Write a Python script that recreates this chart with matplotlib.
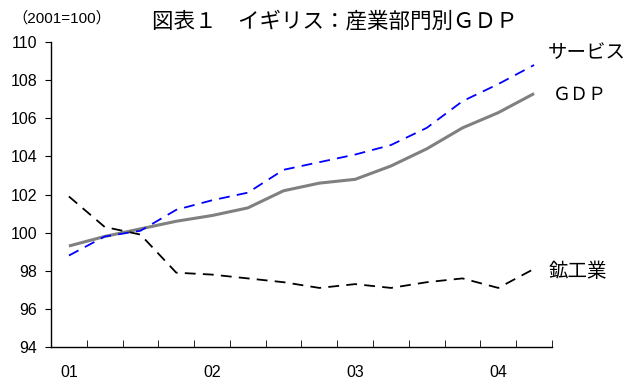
import numpy as np
import matplotlib
matplotlib.use("Agg")
import matplotlib.pyplot as plt

plt.rcParams['font.family'] = ['Liberation Sans', 'Noto Sans CJK JP', 'DejaVu Sans']
jp = ['Noto Sans CJK JP', 'DejaVu Sans']

# quarterly, 2001Q1 - 2004Q2 (2001=100)
quarters = ['01', '', '', '', '02', '', '', '', '03', '', '', '', '04', '']
gdp = [99.3, 99.8, 100.2, 100.6, 100.9, 101.3, 102.2, 102.6, 102.8, 103.5,
       104.4, 105.5, 106.3, 107.3]
services = [98.8, 99.8, 100.1, 101.2, 101.7, 102.1, 103.3, 103.7, 104.1, 104.6,
            105.5, 106.9, 107.8, 108.8]
mining = [101.9, 100.3, 99.9, 97.9, 97.8, 97.6, 97.4, 97.1, 97.3, 97.1,
          97.4, 97.6, 97.1, 98.1]

fig = plt.figure(figsize=(6.33, 3.83), dpi=100)
ax = fig.add_axes([0.0806, 0.094, 0.7914, 0.796])

x = np.arange(len(gdp)) + 0.5
ax.plot(x, gdp, color='#808080', lw=2.2, solid_capstyle='butt')
ax.plot(x, services, color='#0000ff', lw=1.3, dashes=(6, 4))
ax.plot(x, mining, color='black', lw=1.3, dashes=(6, 4))

ax.set_xlim(0, len(gdp))
ax.set_ylim(94, 110)
ax.set_yticks(np.arange(94, 111, 2))
ax.tick_params(axis='y', direction='out', length=4, labelsize=11.5, pad=6)

ax.set_xticks(np.arange(0, len(gdp) + 1), minor=True)
ax.set_xticks(x)
ax.set_xticklabels(quarters)
ax.tick_params(axis='x', which='major', length=0, labelsize=11.5, pad=13)
ax.tick_params(axis='x', which='minor', direction='in', length=5)

for s in ['top', 'right']:
    ax.spines[s].set_visible(False)
for s in ['left', 'bottom']:
    ax.spines[s].set_linewidth(1.0)

fig.text(0.019, 0.953, '（2001=100）', fontsize=11, va='center')
fig.text(0.240, 0.943, '図表１　イギリス：産業部門別ＧＤＰ', fontsize=15.5,
         va='center', family=jp)
fig.text(0.866, 0.864, 'サービス', fontsize=14, va='center', family=jp)
fig.text(0.874, 0.752, 'ＧＤＰ', fontsize=13, va='center', family=jp)
fig.text(0.866, 0.290, '鉱工業', fontsize=14, va='center', family=jp)

fig.savefig('out.png', dpi=100)
